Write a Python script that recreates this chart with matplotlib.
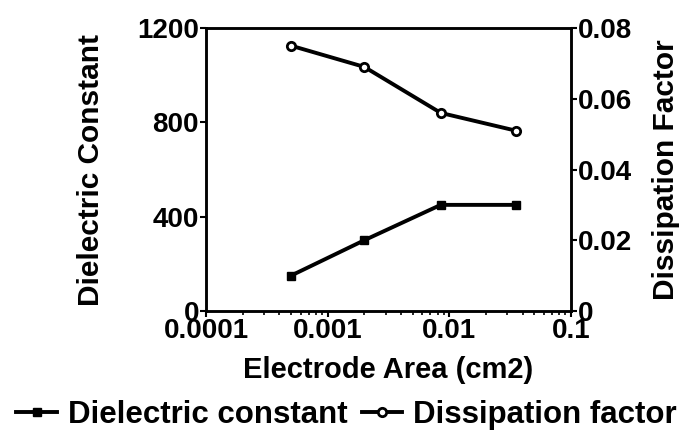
import matplotlib
matplotlib.use("Agg")
import matplotlib.pyplot as plt
import numpy as np

# electrode area sweep, dielectric constant and loss
area = [0.0005, 0.002, 0.0085, 0.035]
dielectric = [150, 300, 450, 450]
dissipation = [0.075, 0.069, 0.056, 0.051]

left_ticks = [0, 400, 800, 1200]
right_ticks = [0, 0.02, 0.04, 0.06, 0.08]
right_labels = ["0", "0.02", "0.04", "0.06", "0.08"]
x_ticks = [0.0001, 0.001, 0.01, 0.1]
x_labels = ["0.0001", "0.001", "0.01", "0.1"]

plt.rcParams["font.family"] = ["Liberation Sans", "DejaVu Sans"]
plt.rcParams["font.weight"] = "bold"
plt.rcParams["axes.labelweight"] = "bold"
fs = 21

fig = plt.figure(figsize=(6.89, 4.32), dpi=100)
ax = fig.add_axes([206 / 689, 1 - 311 / 432, 365 / 689, 283 / 432])
ax2 = ax.twinx()

l1, = ax.plot(area, dielectric, color="black", lw=2.8, marker="s", ms=6,
              mfc="black", mec="black", label="Dielectric constant")
l2, = ax2.plot(area, dissipation, color="black", lw=2.8, marker="o", ms=6,
               mfc="white", mec="black", mew=2, label="Dissipation factor")

ax.set_xscale("log")
ax.set_xlim(0.0001, 0.1)
ax.set_xticks(x_ticks)
ax.set_xticklabels(x_labels)
ax.set_ylim(0, 1200)
ax.set_yticks(left_ticks)
ax2.set_ylim(0, 0.08)
ax2.set_yticks(right_ticks)
ax2.set_yticklabels(right_labels)

for a in (ax, ax2):
    for s in a.spines.values():
        s.set_linewidth(1.8)
    a.tick_params(axis="both", which="major", direction="out", length=4,
                  width=1.5, pad=1, labelsize=fs - 1)
    a.tick_params(axis="x", which="minor", direction="out", length=3, width=1.2)

ax.set_xlabel("Electrode Area (cm2)", fontsize=fs, labelpad=9)
ax.set_ylabel("Dielectric Constant", fontsize=fs + 0.5, labelpad=23)
ax2.set_ylabel("Dissipation Factor", fontsize=fs + 0.5, labelpad=14)

fig.legend(handles=[l1, l2], loc="lower center", bbox_to_anchor=(0.503, -0.06),
           ncol=2, frameon=False, fontsize=fs + 1.5, handlelength=1.3,
           handletextpad=0.35, columnspacing=0.45)

fig.savefig("out.png", dpi=100)
